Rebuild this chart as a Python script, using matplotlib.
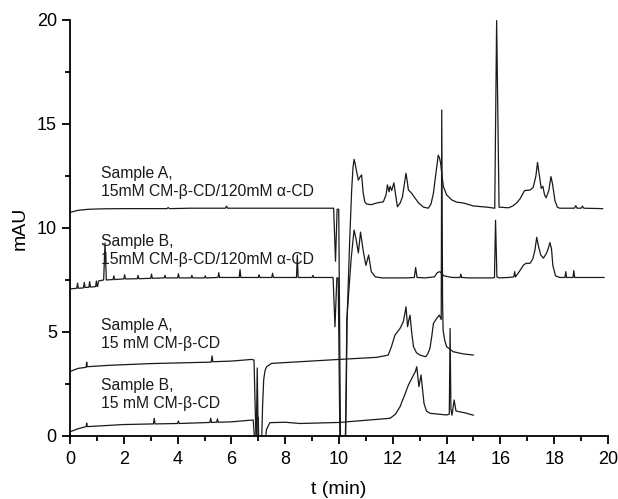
import matplotlib
matplotlib.use("Agg")
import matplotlib.pyplot as plt
from matplotlib.ticker import MultipleLocator

plt.rcParams['font.family'] = ['Liberation Sans', 'DejaVu Sans']

# Sample A, 15mM CM-b-CD/120mM a-CD
t_a_alpha = [0, 0.3, 0.7, 1.2, 2.0, 3.0, 3.6, 3.65, 3.7, 4.5, 5.78, 5.82, 5.86, 7.0, 8.0,
             9.0, 9.8, 9.87, 9.93, 9.99, 10.06, 10.22, 10.27, 10.3, 10.4, 10.47, 10.52,
             10.56, 10.6, 10.63, 10.72, 10.78, 10.84, 10.9, 10.96, 11.03, 11.2, 11.4, 11.65,
             11.75, 11.8, 11.86, 11.9, 11.96, 12.04, 12.17, 12.27, 12.36, 12.44, 12.49,
             12.53, 12.58, 12.7, 12.83, 12.96, 13.14, 13.32, 13.42, 13.51, 13.6, 13.69,
             13.74, 13.78, 13.83, 13.88, 14.0, 14.19, 14.38, 14.63, 14.99, 15.5, 15.79,
             15.86, 15.95, 16.3, 16.45, 16.6, 16.73, 16.9, 17.1, 17.22, 17.32, 17.38,
             17.44, 17.52, 17.58, 17.64, 17.7, 17.8, 17.88, 17.94, 18.03, 18.12, 18.2,
             18.75, 18.8, 18.85, 19.0, 19.05, 19.1, 19.8]
y_a_alpha = [10.75, 10.85, 10.9, 10.92, 10.93, 10.93, 10.93, 10.98, 10.93, 10.95, 10.95,
             11.05, 10.95, 10.95, 10.95, 10.95, 10.95, 8.4, 10.9, 10.9, -1, -1, 2.0, 5.6,
             9.5, 11.8, 12.9, 13.3, 13.1, 12.87, 12.3, 12.45, 12.55, 11.67, 11.25, 11.15,
             11.12, 11.2, 11.26, 11.6, 12.07, 11.74, 12.0, 11.8, 12.17, 11.02, 11.19, 11.5,
             12.2, 12.63, 12.3, 11.83, 11.67, 11.43, 11.2, 11.0, 10.95, 11.15, 11.67, 12.6,
             13.5, 13.35, 13.1, 12.5, 12.0, 11.59, 11.35, 11.24, 11.2, 11.06, 11.0, 10.95,
             19.97, 11.0, 10.97, 11.05, 11.2, 11.4, 11.8, 11.82, 11.95, 12.5, 13.15, 12.6,
             11.9, 12.0, 11.6, 11.45, 11.8, 12.47, 12.1, 11.3, 11.0, 10.95, 10.95, 11.07,
             10.95, 10.95, 11.05, 10.95, 10.93]

# Sample B, 15mM CM-b-CD/120mM a-CD
t_b_alpha = [0, 0.25, 0.28, 0.31, 0.5, 0.53, 0.56, 0.7, 0.73, 0.76, 0.95, 0.98, 1.01,
             1.03, 1.06, 1.25, 1.3, 1.35, 1.6, 1.63, 1.66, 2.0, 2.03, 2.06, 2.5, 2.53,
             2.56, 3.0, 3.03, 3.06, 3.5, 3.53, 3.56, 4.0, 4.03, 4.06, 4.5, 4.53, 4.56,
             5.0, 5.03, 5.06, 5.5, 5.53, 5.56, 6.0, 6.29, 6.32, 6.35, 7.0, 7.03, 7.06,
             7.5, 7.53, 7.56, 8.0, 8.42, 8.45, 8.48, 9.0, 9.03, 9.06, 9.78, 9.85, 9.92,
             9.97, 10.04, 10.24, 10.29, 10.45, 10.56, 10.63, 10.72, 10.8, 10.9, 11.0,
             11.1, 11.2, 11.35, 11.6, 12.0, 12.5, 12.8, 12.85, 12.9, 13.2, 13.55, 13.65,
             13.75, 13.9, 14.2, 14.5, 14.53, 14.56, 14.8, 15.2, 15.7, 15.78, 15.82, 15.87,
             15.95, 16.3, 16.5, 16.53, 16.56, 16.7, 16.85, 16.95, 17.1, 17.2, 17.28,
             17.35, 17.42, 17.5, 17.6, 17.72, 17.8, 17.84, 17.9, 17.95, 18.05, 18.2, 18.4,
             18.43, 18.46, 18.7, 18.73, 18.76, 19.2, 19.85]
y_b_alpha = [7.07, 7.1, 7.35, 7.1, 7.12, 7.38, 7.14, 7.15, 7.42, 7.16, 7.18, 7.45, 7.18,
             7.2, 7.45, 7.5, 9.28, 7.5, 7.52, 7.7, 7.52, 7.55, 7.75, 7.55, 7.56, 7.72,
             7.56, 7.58, 7.78, 7.58, 7.6, 7.72, 7.6, 7.6, 7.8, 7.6, 7.6, 7.72, 7.6, 7.6,
             7.7, 7.6, 7.62, 7.85, 7.62, 7.62, 7.62, 8.0, 7.62, 7.62, 7.75, 7.62, 7.62,
             7.82, 7.62, 7.62, 7.62, 8.7, 7.62, 7.62, 7.72, 7.62, 7.62, 5.25, 7.6, 7.6, -1,
             -1, 5.6, 8.5, 9.9, 9.5, 8.8, 9.8, 8.9, 8.2, 8.7, 7.9, 7.65, 7.6, 7.6, 7.6,
             7.62, 8.1, 7.62, 7.6, 7.65, 7.85, 7.9, 7.7, 7.62, 7.62, 7.78, 7.62, 7.6, 7.6,
             7.6, 7.62, 10.37, 7.65, 7.6, 7.62, 7.65, 7.9, 7.65, 7.9, 8.2, 8.3, 8.3, 8.5,
             8.9, 9.55, 9.1, 8.7, 8.55, 8.8, 9.1, 9.3, 9.0, 8.2, 7.7, 7.62, 7.62, 7.9, 7.62,
             7.62, 7.95, 7.62, 7.62, 7.62]

# Sample A, 15 mM CM-b-CD
t_a_beta = [0, 0.3, 0.6, 0.62, 0.64, 1.5, 3.0, 5.25, 5.28, 5.31, 6.0, 6.75, 6.84, 6.92,
            6.96, 7.0, 7.04, 7.12, 7.16, 7.2, 7.25, 7.31, 7.49, 8.55, 10.0, 11.4, 11.83,
            11.95, 12.08, 12.27, 12.39, 12.45, 12.49, 12.55, 12.6, 12.64, 12.7, 12.77,
            12.88, 13.01, 13.22, 13.3, 13.38, 13.45, 13.51, 13.63, 13.73, 13.8, 13.82,
            13.85, 13.87, 13.93, 14.0, 14.25, 14.6, 14.99]
y_a_beta = [3.1, 3.25, 3.3, 3.55, 3.33, 3.4, 3.48, 3.55, 3.85, 3.57, 3.6, 3.68, 3.65, -0.5,
            3.27, -0.5, -0.5, -0.5, 1.5, 2.7, 3.15, 3.33, 3.49, 3.57, 3.68, 3.78, 3.89,
            4.3, 4.85, 5.17, 5.49, 5.9, 6.21, 5.25, 5.6, 5.81, 5.0, 4.29, 4.0, 3.89, 3.81,
            3.95, 4.21, 4.8, 5.41, 5.65, 5.81, 5.6, 15.67, 6.5, 5.09, 4.6, 4.29, 4.05,
            3.95, 3.89]

# Sample B, 15 mM CM-b-CD
t_b_beta = [0, 0.3, 0.6, 0.62, 0.64, 2.0, 3.1, 3.13, 3.16, 4.0, 4.03, 4.06, 5.2, 5.23,
            5.26, 5.45, 5.48, 5.51, 6.0, 6.81, 6.88, 6.98, 7.0, 7.02, 7.2, 7.25, 7.3,
            7.43, 8.0, 8.55, 10.0, 11.9, 12.1, 12.27, 12.45, 12.58, 12.77, 12.84, 12.89,
            12.97, 13.05, 13.1, 13.16, 13.25, 13.38, 14.0, 14.1, 14.13, 14.16, 14.2, 14.28,
            14.35, 14.72, 14.99]
y_b_beta = [0.2, 0.35, 0.45, 0.62, 0.45, 0.55, 0.58, 0.85, 0.58, 0.6, 0.72, 0.6, 0.65,
            0.85, 0.65, 0.66, 0.82, 0.66, 0.68, 0.77, -0.5, -0.5, 0.9, -0.5, -0.5, -0.5,
            0.3, 0.64, 0.66, 0.6, 0.65, 0.85, 1.05, 1.41, 2.0, 2.45, 2.93, 3.1, 3.33, 2.37,
            2.93, 2.3, 1.57, 1.2, 1.09, 1.01, 1.05, 5.17, 1.3, 1.0, 1.73, 1.2, 1.1, 1.0]

labels = ["Sample A,\n15mM CM-\u03b2-CD/120mM \u03b1-CD",
          "Sample B,\n15mM CM-\u03b2-CD/120mM \u03b1-CD",
          "Sample A,\n15 mM CM-\u03b2-CD",
          "Sample B,\n15 mM CM-\u03b2-CD"]
label_y = [12.2, 8.9, 4.9, 2.0]

fig = plt.figure(figsize=(6.18, 4.99), dpi=100)
ax = fig.add_axes([0.1133, 0.1263, 0.8705, 0.8337])

lc = '#1a1a1a'
for t, y in [(t_a_alpha, y_a_alpha), (t_b_alpha, y_b_alpha),
             (t_a_beta, y_a_beta), (t_b_beta, y_b_beta)]:
    ax.plot(t, y, color=lc, lw=0.9)

for txt, ly in zip(labels, label_y):
    ax.text(1.15, ly, txt, fontsize=11.3, va='center', ha='left',
            linespacing=1.25, color='#1a1a1a')

ax.set_xlim(0, 20)
ax.set_ylim(0, 20)
ax.xaxis.set_major_locator(MultipleLocator(2))
ax.xaxis.set_minor_locator(MultipleLocator(1))
ax.yaxis.set_major_locator(MultipleLocator(5))
ax.yaxis.set_minor_locator(MultipleLocator(2.5))
ax.spines['top'].set_visible(False)
ax.spines['right'].set_visible(False)
for s in ['left', 'bottom']:
    ax.spines[s].set_linewidth(1.3)
ax.tick_params(which='major', direction='out', length=6, width=1.3, labelsize=13)
ax.tick_params(axis='x', which='major', pad=5)
ax.tick_params(which='minor', direction='out', length=3.5, width=1.3)
ax.set_xlabel('t (min)', fontsize=14, labelpad=9)
ax.set_ylabel('mAU', fontsize=14, labelpad=6)

fig.savefig('out.png', dpi=100)
